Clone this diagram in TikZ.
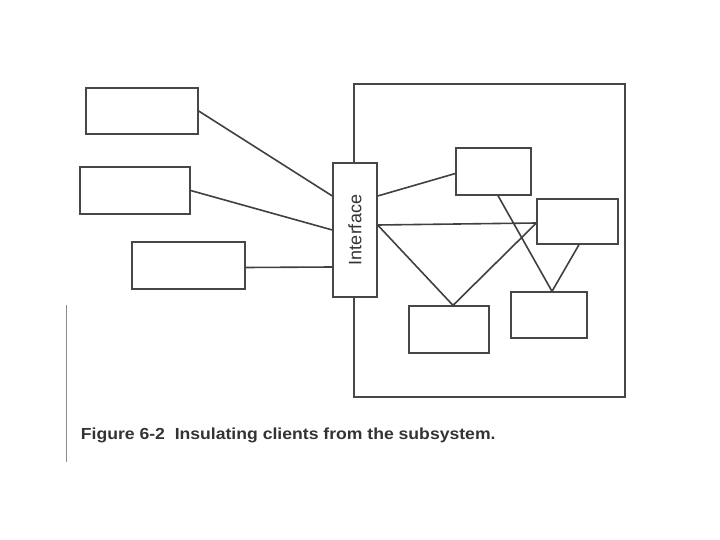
\documentclass[tikz,border=0pt]{standalone}
\usepackage{fontspec}
\setmainfont{Liberation Sans}
\usetikzlibrary{positioning}

\begin{document}
\begin{tikzpicture}[x=1pt, y=-1pt,
    every node/.append style={align=center},
    box/.style={draw=black!72, inner sep=0pt, line width=1.3pt},
    link/.style={draw=black!75, line width=1.6pt}]
   \useasboundingbox (0,0) rectangle (720,540);

   % clients
   \node [box, minimum width=112pt, minimum height=46pt] (C1) at (142,111)   {};
   \node [box, minimum width=110pt, minimum height=47pt] (C2) at (135,190.5) {};
   \node [box, minimum width=113pt, minimum height=47pt] (C3) at (188.5,265.5) {};

   % subsystem
   \node [box, minimum width=271pt, minimum height=313pt] (Sub) at (489.5,240.5) {};
   \node [box, fill=white, minimum width=44pt, minimum height=134pt,
          label={[rotate=90, font=\fontsize{18}{20}\selectfont, text=black!80]center:Interface}] (If) at (355,230) {};
   \node [box, minimum width=75pt, minimum height=47pt] (SA) at (493.5,171.5) {};
   \node [box, minimum width=81pt, minimum height=45pt] (SB) at (577.5,221.5) {};
   \node [box, minimum width=80pt, minimum height=47pt] (SC) at (449,329.5)   {};
   \node [box, minimum width=76pt, minimum height=46pt] (SD) at (549,315)     {};

   \path[link] (C1.east) -- ([yshift=34pt]If.west)
   (C2.east) -- (If.west)
   ([yshift=-2pt]C3.east) -- ([yshift=-37pt]If.west)
   ([yshift=34pt]If.east) -- ([yshift=-2pt]SA.west)
   ([yshift=5pt]If.east) -- ([yshift=-1.5pt]SB.west)
   ([yshift=5pt]If.east) -- ([xshift=4pt]SC.north)
   ([xshift=4pt]SC.north) -- ([yshift=-1.5pt]SB.west)
   ([xshift=4.5pt]SA.south) -- ([xshift=3pt]SD.north)
   ([xshift=1.5pt]SB.south) -- ([xshift=3pt]SD.north);

   % page edge of the scan
   \coordinate (Et) at (66,305);
   \coordinate (Eb) at (66,462);
   \draw[black!45, line width=0.8pt] (Et) -- (Eb);

   \node [anchor=base west, xscale=1.1, text=black!80,
          font=\bfseries\fontsize{16}{19}\selectfont] (Cap) at (77,439)
          {Figure 6-2\ \ Insulating clients from the subsystem.};
\end{tikzpicture}
\end{document}
